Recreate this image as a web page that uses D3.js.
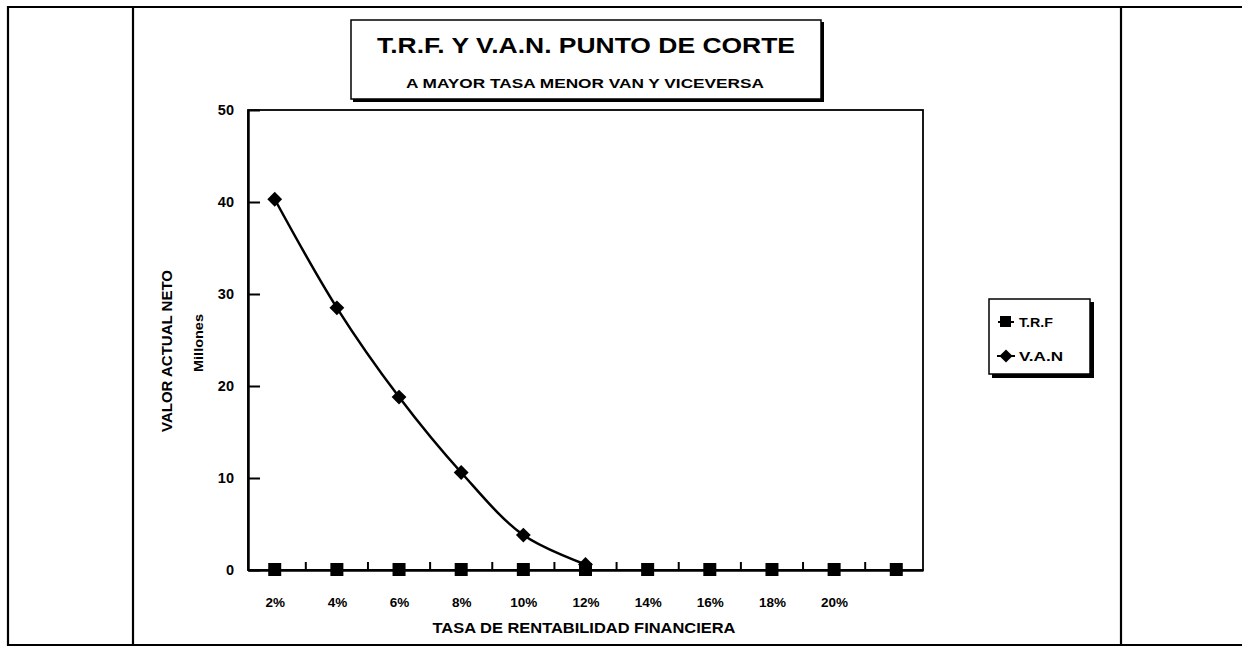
<!DOCTYPE html>
<html>
<head>
<meta charset="utf-8">
<script src="https://cdn.jsdelivr.net/npm/d3@7"></script>
<style>
  body { margin: 0; background: #fff; }
  text { font-family: "Liberation Sans", Arial, sans-serif; font-weight: bold; fill: #000; }
</style>
</head>
<body>
<svg width="1242" height="649"></svg>
<script>
// categories on the x axis (last one has no label in the original)
var tasas = ["2%", "4%", "6%", "8%", "10%", "12%", "14%", "16%", "18%", "20%", " "];
// series
var trf = [0, 0, 0, 0, 0, 0, 0, 0, 0, 0, 0];
var van = [40.3, 28.5, 18.8, 10.6, 3.8, 0.6];
var yTicks = [0, 10, 20, 30, 40, 50];

var svg = d3.select("svg"),
    plotLeft = 248, plotRight = 923, plotTop = 110, plotBottom = 570;

/* outer table frame */
var frame = svg.append("g").attr("stroke", "#000").attr("stroke-width", 2.2).attr("fill", "none");
frame.append("path").attr("d", "M8,646 L8,7 L1242,7");
frame.append("path").attr("d", "M8,645 L1242,645");
frame.append("line").attr("x1", 133).attr("x2", 133).attr("y1", 7).attr("y2", 645);
frame.append("line").attr("x1", 1121).attr("x2", 1121).attr("y1", 7).attr("y2", 645);

var x = d3.scalePoint().domain(tasas).range([plotLeft, plotRight]).padding(0.43);
var y = d3.scaleLinear().domain([0, 50]).range([plotBottom, plotTop]);

/* plot area border */
svg.append("rect")
    .attr("x", plotLeft).attr("y", plotTop)
    .attr("width", plotRight - plotLeft).attr("height", plotBottom - plotTop)
    .attr("fill", "none").attr("stroke", "#000").attr("stroke-width", 1.8);

/* y axis */
var yAxis = svg.append("g")
    .attr("transform", "translate(" + plotLeft + ",0)")
    .call(d3.axisLeft(y).tickValues(yTicks).tickSizeInner(-12).tickSizeOuter(0).tickPadding(14));
yAxis.select(".domain").attr("stroke-width", 2.5);
yAxis.selectAll(".tick line").attr("stroke-width", 2);
yAxis.selectAll("text").attr("font-size", 14.5);

/* x axis: labels under categories, ticks between categories */
var xAxis = svg.append("g")
    .attr("transform", "translate(0," + plotBottom + ")")
    .call(d3.axisBottom(x).tickSize(0).tickPadding(27));
xAxis.select(".domain").attr("stroke-width", 2.5);
xAxis.selectAll("text").attr("font-size", 13.5);

var mids = tasas.slice(1).map(function(d, i) { return (x(tasas[i]) + x(d)) / 2; });
svg.append("g").selectAll("line")
  .data(mids)
  .enter().append("line")
    .attr("x1", function(d) { return d; })
    .attr("x2", function(d) { return d; })
    .attr("y1", plotBottom)
    .attr("y2", plotBottom - 8)
    .attr("stroke", "#000").attr("stroke-width", 2);

/* axis titles */
svg.append("text")
    .attr("transform", "translate(172,351) rotate(-90)")
    .attr("text-anchor", "middle")
    .attr("font-size", 14.5)
    .attr("textLength", 162).attr("lengthAdjust", "spacingAndGlyphs")
    .text("VALOR ACTUAL NETO");
svg.append("text")
    .attr("transform", "translate(203,343) rotate(-90)")
    .attr("text-anchor", "middle")
    .attr("font-size", 13)
    .attr("textLength", 58).attr("lengthAdjust", "spacingAndGlyphs")
    .text("Millones");
svg.append("text")
    .attr("x", 584).attr("y", 633)
    .attr("text-anchor", "middle")
    .attr("font-size", 14.5)
    .attr("textLength", 303).attr("lengthAdjust", "spacingAndGlyphs")
    .text("TASA DE RENTABILIDAD FINANCIERA");

/* V.A.N line */
var line = d3.line()
    .x(function(d, i) { return x(tasas[i]); })
    .y(function(d) { return y(d); })
    .curve(d3.curveCatmullRom.alpha(0.5));

svg.append("path")
    .datum(van)
    .attr("d", line)
    .attr("fill", "none")
    .attr("stroke", "#000")
    .attr("stroke-width", 2.5);

svg.append("g").selectAll("path")
  .data(van)
  .enter().append("path")
    .attr("transform", function(d, i) { return "translate(" + x(tasas[i]) + "," + y(d) + ")"; })
    .attr("d", d3.symbol().type(d3.symbolDiamond2).size(140))
    .attr("fill", "#000");

/* T.R.F series (flat on zero) */
svg.append("path")
    .datum(trf)
    .attr("d", d3.line().x(function(d, i) { return x(tasas[i]); }).y(function(d) { return y(d); }))
    .attr("fill", "none").attr("stroke", "#000").attr("stroke-width", 2);

svg.append("g").selectAll("rect")
  .data(trf)
  .enter().append("rect")
    .attr("x", function(d, i) { return x(tasas[i]) - 6.5; })
    .attr("y", function(d) { return y(d) - 7; })
    .attr("width", 13).attr("height", 13)
    .attr("fill", "#000");

/* title box */
svg.append("rect").attr("x", 353).attr("y", 22).attr("width", 471).attr("height", 80).attr("fill", "#000");
svg.append("rect").attr("x", 351).attr("y", 20).attr("width", 470).attr("height", 79)
    .attr("fill", "#fff").attr("stroke", "#000").attr("stroke-width", 1.5);
svg.append("text")
    .attr("x", 586).attr("y", 53)
    .attr("text-anchor", "middle")
    .attr("font-size", 22)
    .attr("textLength", 418).attr("lengthAdjust", "spacingAndGlyphs")
    .text("T.R.F. Y V.A.N. PUNTO DE CORTE");
svg.append("text")
    .attr("x", 585).attr("y", 88)
    .attr("text-anchor", "middle")
    .attr("font-size", 13.5)
    .attr("textLength", 358).attr("lengthAdjust", "spacingAndGlyphs")
    .text("A MAYOR TASA MENOR VAN Y VICEVERSA");

/* legend */
var legend = svg.append("g");
legend.append("rect").attr("x", 992).attr("y", 302).attr("width", 102).attr("height", 76).attr("fill", "#000");
legend.append("rect").attr("x", 989).attr("y", 299).attr("width", 101).attr("height", 75)
    .attr("fill", "#fff").attr("stroke", "#000").attr("stroke-width", 1.5);

legend.append("line").attr("x1", 998).attr("x2", 1014).attr("y1", 322).attr("y2", 322)
    .attr("stroke", "#000").attr("stroke-width", 2);
legend.append("rect").attr("x", 1000).attr("y", 316).attr("width", 11).attr("height", 11).attr("fill", "#000");
legend.append("text").attr("x", 1019).attr("y", 327).attr("font-size", 13.5)
    .attr("textLength", 34).attr("lengthAdjust", "spacingAndGlyphs").text("T.R.F");

legend.append("line").attr("x1", 997).attr("x2", 1015).attr("y1", 356).attr("y2", 356)
    .attr("stroke", "#000").attr("stroke-width", 2);
legend.append("path")
    .attr("transform", "translate(1006,356)")
    .attr("d", d3.symbol().type(d3.symbolDiamond2).size(110))
    .attr("fill", "#000");
legend.append("text").attr("x", 1019).attr("y", 361).attr("font-size", 13.5)
    .attr("textLength", 44).attr("lengthAdjust", "spacingAndGlyphs").text("V.A.N");
</script>
</body>
</html>
